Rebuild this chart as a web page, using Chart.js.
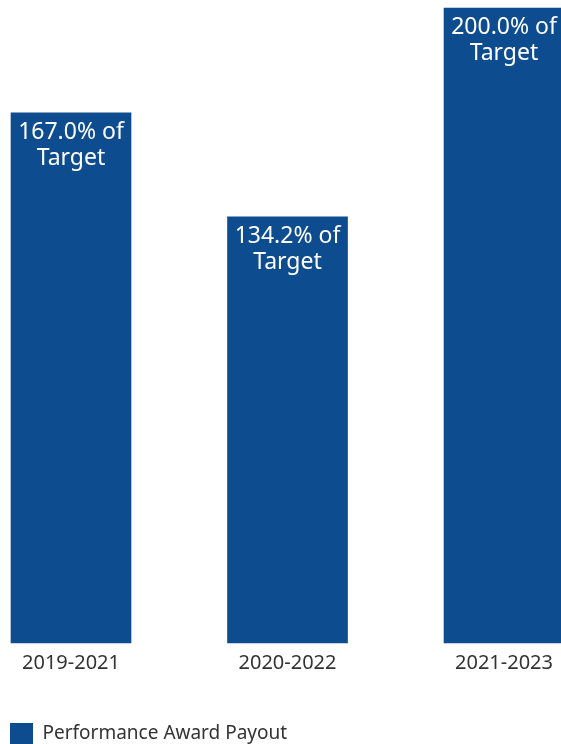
<!DOCTYPE html>
<html>
<head>
<meta charset="utf-8">
<script src="https://cdn.jsdelivr.net/npm/chart.js@4.4.1/dist/chart.umd.min.js"></script>
<style>
  html, body { margin: 0; padding: 0; background: #fff; }
  #wrap { width: 561px; height: 744px; position: relative; }
</style>
</head>
<body>
<div id="wrap"><canvas id="payoutChart"></canvas></div>
<script>
var periods = ['2019-2021', '2020-2022', '2021-2023'];
var payoutPct = [167.0, 134.2, 200.0];
var seriesName = 'Performance Award Payout';

var barBlue = '#0d4c8f';
var textGrey = '#333333';
var fontFamily = '"Noto Sans", sans-serif';

// white "xxx.x% of / Target" text inside the top of each bar
var barLabels = {
  id: 'barLabels',
  afterDatasetsDraw: function (chart) {
    var ctx = chart.ctx;
    var meta = chart.getDatasetMeta(0);
    ctx.save();
    ctx.fillStyle = '#ffffff';
    ctx.font = '23px ' + fontFamily;
    ctx.textAlign = 'center';
    ctx.textBaseline = 'alphabetic';
    meta.data.forEach(function (bar, i) {
      var v = chart.data.datasets[0].data[i];
      ctx.fillText(v.toFixed(1) + '% of', bar.x, bar.y + 26);
      ctx.fillText('Target', bar.x, bar.y + 52);
    });
    ctx.restore();
  }
};

var chart = new Chart(document.getElementById('payoutChart').getContext('2d'), {
  type: 'bar',
  data: {
    labels: periods,
    datasets: [{
      label: seriesName,
      data: payoutPct,
      backgroundColor: barBlue,
      borderWidth: 0,
      barThickness: 120,
      clip: false
    }]
  },
  options: {
    responsive: true,
    maintainAspectRatio: false,
    animation: false,
    layout: { padding: { top: 8, left: 0, right: 0, bottom: -11 } },
    scales: {
      x: {
        offset: false,
        grid: { display: false, drawTicks: false },
        border: { display: false },
        ticks: { color: textGrey, font: { family: fontFamily, size: 20 }, padding: 8, maxRotation: 0 },
        // leave a gap between the period labels and the legend
        afterFit: function (scale) { scale.height = scale.height + 30; }
      },
      y: {
        position: 'left',
        min: 0,
        max: 200,
        grid: { display: false, drawTicks: false },
        border: { display: false },
        ticks: { display: false },
        afterFit: function (scale) { scale.width = 71; }
      },
      yRight: {
        position: 'right',
        min: 0,
        max: 200,
        grid: { display: false, drawTicks: false },
        border: { display: false },
        ticks: { display: false },
        afterFit: function (scale) { scale.width = 56; }
      }
    },
    plugins: {
      legend: {
        position: 'bottom',
        align: 'start',
        labels: {
          boxWidth: 23,
          boxHeight: 22,
          padding: 10,
          color: textGrey,
          font: { family: fontFamily, size: 19 }
        }
      },
      tooltip: { enabled: false }
    }
  },
  plugins: [barLabels]
});
</script>
</body>
</html>
